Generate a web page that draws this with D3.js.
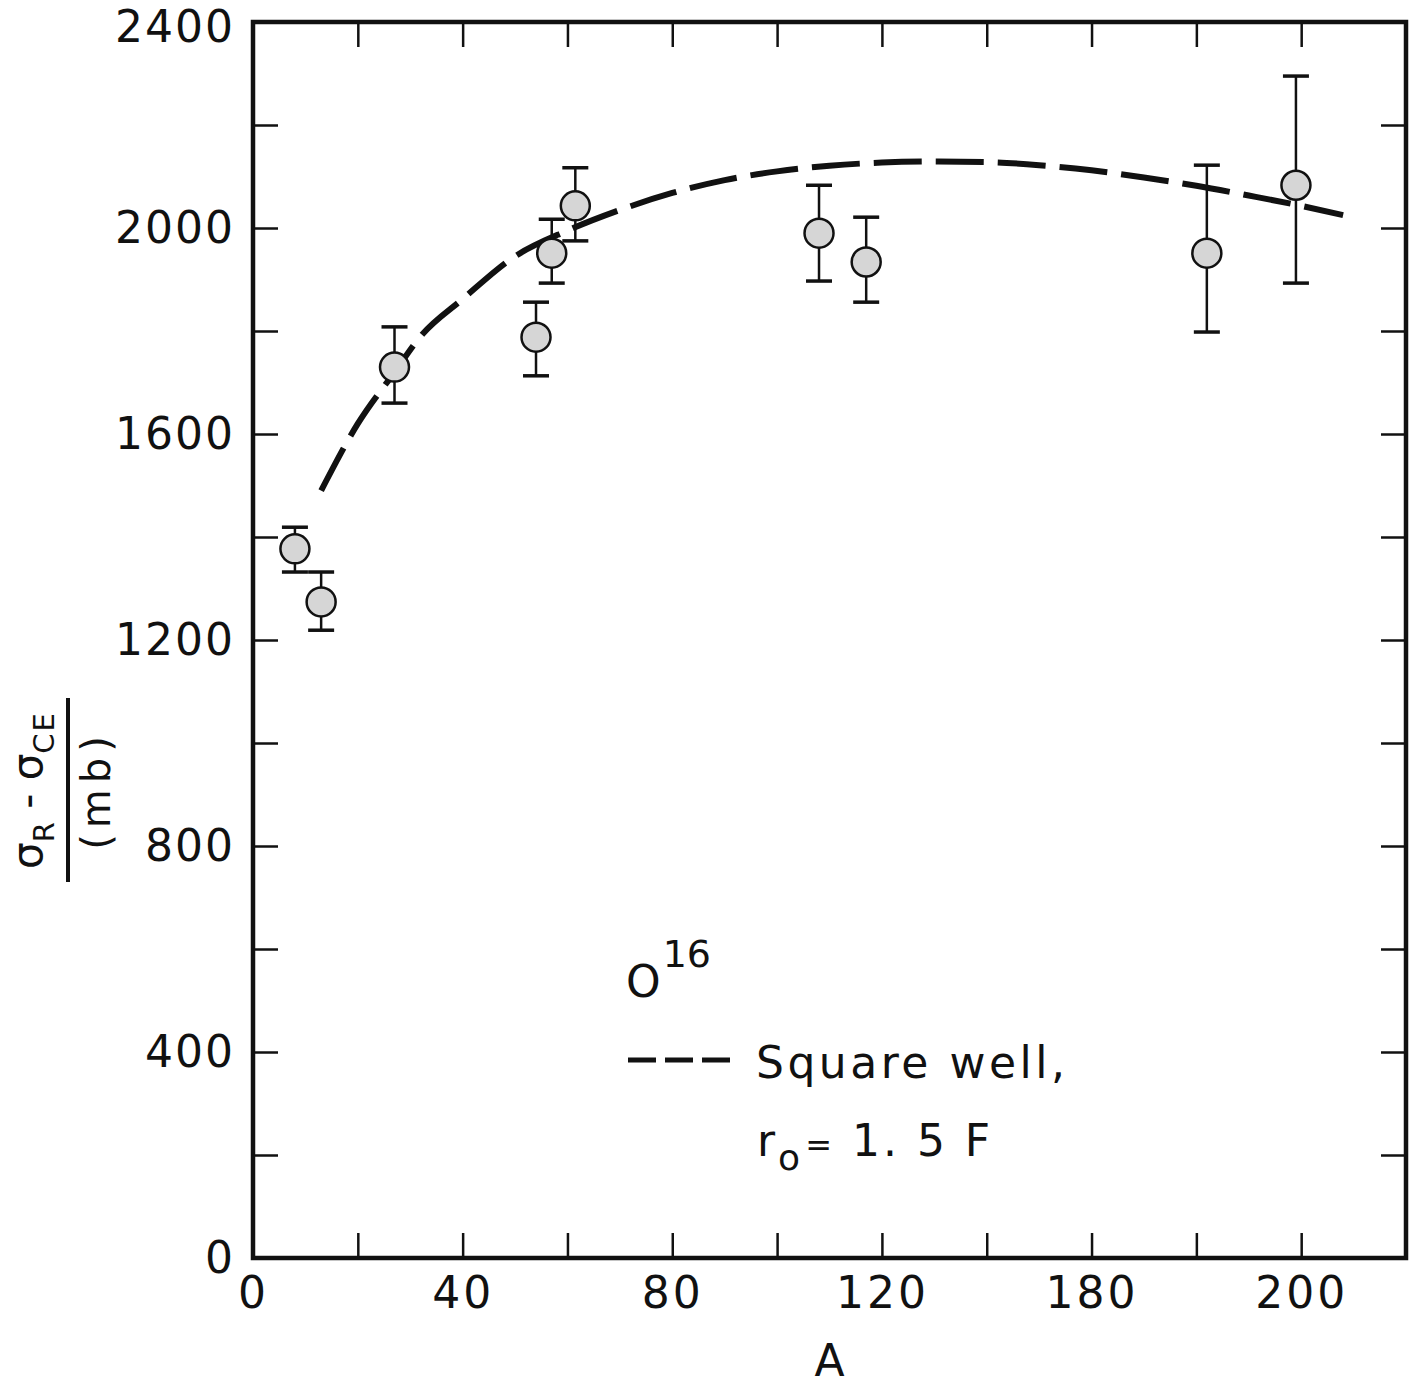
<!DOCTYPE html>
<html>
<head>
<meta charset="utf-8">
<script src="https://cdn.jsdelivr.net/npm/d3@7"></script>
<style>
body { margin: 0; background: #fff; }
svg text { font-family: "DejaVu Sans", sans-serif; fill: #111; }
</style>
</head>
<body>
<svg id="chart" width="1418" height="1385"></svg>
<script>
// measured points (A, sigma_R - sigma_CE in mb) with error bar ends
const massNumbers = [8, 13, 27, 54, 57, 61.5, 108, 117, 182, 199];
const sigmaValues = [1377, 1274, 1730, 1788, 1951, 2043, 1990, 1934, 1951, 2083];
const errLow      = [1332, 1219, 1660, 1713, 1893, 1975, 1897, 1856, 1798, 1893];
const errHigh     = [1419, 1332, 1808, 1856, 2017, 2117, 2083, 2021, 2122, 2295];

// square well curve, r0 = 1.5 F
const curveA     = [13, 20, 27, 32, 40, 50, 60, 70, 80, 90, 100, 110, 120, 130, 140, 150, 160, 170, 180, 190, 200, 208];
const curveSigma = [1490, 1620, 1720, 1790, 1862, 1945, 1995, 2035, 2068, 2093, 2110, 2121, 2127, 2129, 2128, 2122, 2112, 2098, 2082, 2063, 2043, 2025];

const xTicks = [20, 40, 60, 80, 100, 120, 140, 160, 180, 200];
const xLabelValues = [0, 40, 80, 120, 160, 200];
const xLabelTexts = ["0", "40", "80", "120", "180", "200"];
const yTicks = [200, 400, 600, 800, 1000, 1200, 1400, 1600, 1800, 2000, 2200];
const yLabelValues = [0, 400, 800, 1200, 1600, 2000, 2400];

const dim = { left: 253, right: 1406, top: 22, bottom: 1258 };
const tickLen = 25;

const svg = d3.select("#chart");
const x = d3.scaleLinear().domain([0, 220]).range([dim.left, dim.right]);
const y = d3.scaleLinear().domain([0, 2400]).range([dim.bottom, dim.top]);

// ticks, all pointing inward
const tickStyle = g => {
    g.select(".domain").remove();
    g.selectAll(".tick line").attr("stroke", "#111").attr("stroke-width", 2.5);
    g.selectAll(".tick text").remove();
};
svg.append("g").attr("transform", `translate(0,${dim.bottom})`)
    .call(d3.axisBottom(x).tickValues(xTicks).tickSize(-tickLen)).call(tickStyle);
svg.append("g").attr("transform", `translate(0,${dim.top})`)
    .call(d3.axisTop(x).tickValues(xTicks).tickSize(-tickLen)).call(tickStyle);
svg.append("g").attr("transform", `translate(${dim.left},0)`)
    .call(d3.axisLeft(y).tickValues(yTicks).tickSize(-tickLen)).call(tickStyle);
svg.append("g").attr("transform", `translate(${dim.right},0)`)
    .call(d3.axisRight(y).tickValues(yTicks).tickSize(-tickLen)).call(tickStyle);

// frame
svg.append("rect")
    .attr("x", dim.left).attr("y", dim.top)
    .attr("width", dim.right - dim.left).attr("height", dim.bottom - dim.top)
    .attr("fill", "none").attr("stroke", "#111").attr("stroke-width", 4.5);

// tick labels
svg.append("g").attr("transform", `translate(0,${dim.bottom})`)
    .call(d3.axisBottom(x).tickValues(xLabelValues).tickSize(0).tickPadding(19)
        .tickFormat((d, i) => xLabelTexts[i]))
    .call(g => g.select(".domain").remove())
    .selectAll("text").attr("font-size", 44).attr("letter-spacing", 3).attr("fill", "#111");

svg.append("g").attr("transform", `translate(${dim.left},0)`)
    .call(d3.axisLeft(y).tickValues(yLabelValues).tickSize(0).tickPadding(18)
        .tickFormat(d3.format("d")))
    .call(g => g.select(".domain").remove())
    .selectAll("text").attr("font-size", 44).attr("letter-spacing", 2).attr("fill", "#111")
    .attr("dy", d => d === 2400 ? "0.45em" : "0.32em");

// x title
svg.append("text")
    .attr("x", x(110)).attr("y", 1376)
    .attr("text-anchor", "middle").attr("font-size", 44)
    .text("A");

// y title as a fraction
const yt = svg.append("g").attr("transform", "translate(0,790) rotate(-90)");
const num = yt.append("text").attr("y", 42).attr("text-anchor", "middle").attr("font-size", 42);
num.append("tspan").text("σ");
num.append("tspan").attr("font-size", 29).attr("dy", 12).text("R");
num.append("tspan").attr("dy", -12).text(" - σ");
num.append("tspan").attr("font-size", 29).attr("dy", 12).attr("letter-spacing", 2).text("CE");
yt.append("line").attr("x1", -92).attr("x2", 92).attr("y1", 68).attr("y2", 68)
    .attr("stroke", "#111").attr("stroke-width", 4);
yt.append("text").attr("y", 110).attr("text-anchor", "middle").attr("font-size", 40)
    .attr("letter-spacing", 6).text("(mb)");

// dashed curve
const curveData = curveA.map((a, i) => ({ a: a, v: curveSigma[i] }));
svg.append("path")
    .datum(curveData)
    .attr("fill", "none")
    .attr("stroke", "#111")
    .attr("stroke-width", 6)
    .attr("stroke-dasharray", "48 14")
    .attr("d", d3.line().x(d => x(d.a)).y(d => y(d.v)).curve(d3.curveMonotoneX));

// data points with error bars
const pts = massNumbers.map((a, i) => ({ a: a, v: sigmaValues[i], lo: errLow[i], hi: errHigh[i] }));
const pt = svg.append("g").selectAll("g").data(pts).enter().append("g");
pt.append("line")
    .attr("x1", d => x(d.a)).attr("x2", d => x(d.a))
    .attr("y1", d => y(d.lo)).attr("y2", d => y(d.hi))
    .attr("stroke", "#111").attr("stroke-width", 2.5);
pt.each(function(d) {
    [d.lo, d.hi].forEach(e => {
        d3.select(this).append("line")
            .attr("x1", x(d.a) - 13).attr("x2", x(d.a) + 13)
            .attr("y1", y(e)).attr("y2", y(e))
            .attr("stroke", "#111").attr("stroke-width", 3.5);
    });
});
pt.append("circle")
    .attr("cx", d => x(d.a)).attr("cy", d => y(d.v)).attr("r", 14.5)
    .attr("fill", "#d6d6d6").attr("stroke", "#111").attr("stroke-width", 2.5);

// legend
const o16 = svg.append("text").attr("x", 626).attr("y", 997).attr("font-size", 44);
o16.append("tspan").text("O");
o16.append("tspan").attr("font-size", 38).attr("dy", -30).attr("dx", 2).text("16");

svg.append("line").attr("x1", 628).attr("x2", 730).attr("y1", 1060).attr("y2", 1060)
    .attr("stroke", "#111").attr("stroke-width", 5).attr("stroke-dasharray", "28 9");
svg.append("text").attr("x", 756).attr("y", 1078).attr("font-size", 44)
    .attr("letter-spacing", 3.5).text("Square well,");

const r0 = svg.append("text").attr("x", 757).attr("y", 1156).attr("font-size", 44).attr("letter-spacing", 3);
r0.append("tspan").text("r");
r0.append("tspan").attr("font-size", 36).attr("dy", 14).text("o");
r0.append("tspan").attr("dy", -14).attr("font-size", 32).attr("dx", 2).text("=");
r0.append("tspan").text(" 1. 5 F");
</script>
</body>
</html>
